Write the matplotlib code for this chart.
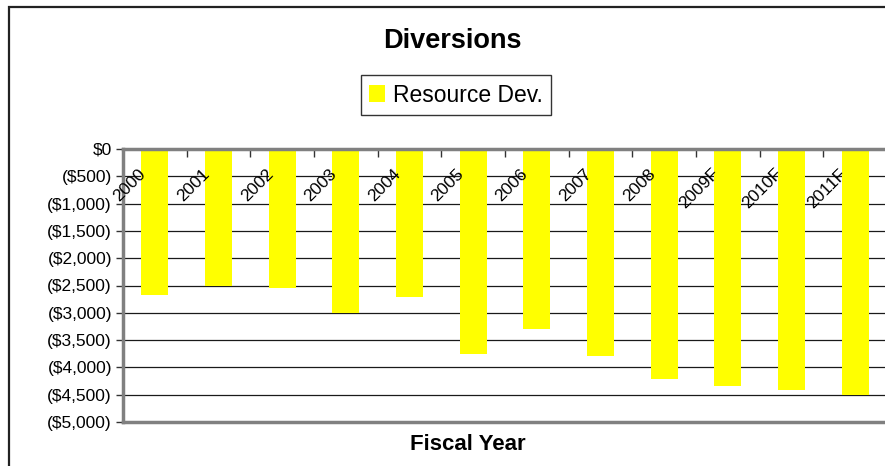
import matplotlib.pyplot as plt
from matplotlib.patches import Rectangle
from matplotlib.ticker import FuncFormatter, MultipleLocator

years = ['2000', '2001', '2002', '2003', '2004', '2005', '2006', '2007',
         '2008', '2009F', '2010F', '2011F']
resource_dev = [-2675, -2500, -2540, -3000, -2710, -3750, -3300, -3790,
                -4210, -4335, -4410, -4505]

plt.rcParams['font.family'] = ['Liberation Sans', 'DejaVu Sans']

W, H = 885, 466
fig = plt.figure(figsize=(W / 100, H / 100), dpi=100)
ax = fig.add_axes([123 / W, 1 - 422 / H, (887 - 123) / W, (422 - 149) / H])

x = list(range(len(years)))
ax.bar(x, resource_dev, width=0.42, color='#ffff00', zorder=2)

ax.set_xlim(-0.5, len(years) - 0.5)
ax.set_ylim(-5000, 0)

def money(v, pos):
    v = int(round(v))
    if v == 0:
        return '$0'
    return '(${:,})'.format(abs(v))

ax.yaxis.set_major_locator(MultipleLocator(500))
ax.yaxis.set_major_formatter(FuncFormatter(money))
ax.grid(axis='y', color='#1a1a1a', lw=0.9, zorder=0)
ax.set_axisbelow(True)
ax.tick_params(axis='y', length=5, width=1, color='#333333', labelsize=12.5, pad=3)

# category axis sits on the $0 line at the top
ax.xaxis.set_ticks_position('top')
ax.set_xticks([i - 0.5 for i in x])
ax.set_xticklabels([])
ax.tick_params(axis='x', direction='in', length=6, width=1, color='#333333')
for i, lab in zip(x, years):
    ax.text(i - 0.18, -410, lab, rotation=45, ha='right', va='center',
            rotation_mode='anchor', fontsize=12.5, zorder=3)

for s in ['left', 'bottom', 'top']:
    ax.spines[s].set_color('#808080')
    ax.spines[s].set_linewidth(2.5)
ax.spines['right'].set_visible(False)

fig.text(452 / W, 1 - 48 / H, 'Diversions', ha='center', va='baseline',
         fontsize=19.5, fontweight='bold')
fig.text(468 / W, 1 - 450 / H, 'Fiscal Year', ha='center', va='baseline',
         fontsize=16, fontweight='bold')

leg = fig.legend(['Resource Dev.'], loc='center',
                 bbox_to_anchor=(456 / W, 1 - 95 / H), fontsize=16.5,
                 handlelength=0.7, handleheight=0.7, handletextpad=0.35,
                 borderpad=0.35, fancybox=False, framealpha=1)
leg.get_frame().set_edgecolor('#333333')
leg.get_frame().set_linewidth(1)

# chart area border
fig.patches.append(Rectangle((8.5 / W, -0.2), 1.2, 1.2 - 6.5 / H,
                             transform=fig.transFigure, fill=False,
                             edgecolor='#222222', lw=1.6))

fig.savefig('out.png', dpi=100)
